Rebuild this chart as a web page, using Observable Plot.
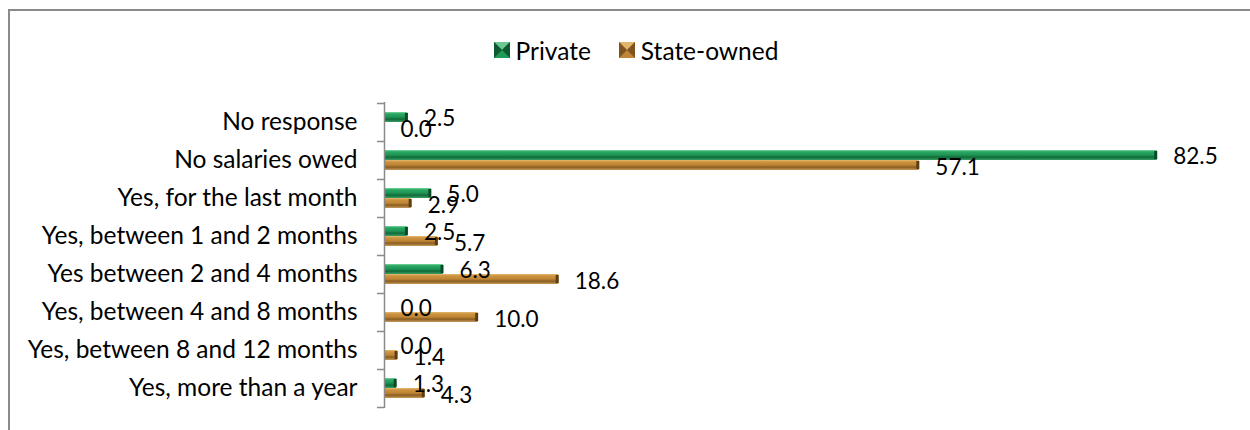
<!DOCTYPE html>
<html><head><meta charset="utf-8">
<script src="https://cdn.jsdelivr.net/npm/d3@7"></script>
<script src="https://cdn.jsdelivr.net/npm/@observablehq/plot@0.6"></script>
<style>
html,body{margin:0;padding:0;overflow:hidden;background:#fff;width:1250px;height:430px;}
#frame{position:absolute;left:8px;top:9px;width:1300px;height:500px;border:2px solid #8a8a8a;box-sizing:border-box;}
#chart{position:absolute;left:0;top:0;width:1250px;font-family:Lato,sans-serif;color:#000;}
#legend{height:70px;display:flex;justify-content:center;align-items:center;padding-top:30px;box-sizing:border-box;font-size:24.5px;padding-left:22px;}
.item{display:flex;align-items:center;}
.item svg{margin-right:6px;}
.item + .item{margin-left:28px;}
</style></head>
<body>
<div id="frame"></div>
<div id="chart"><div id="legend"></div></div>
<script>
const categories = ["No response","No salaries owed","Yes, for the last month","Yes, between 1 and 2 months","Yes between 2 and 4 months","Yes, between 4 and 8 months","Yes, between 8 and 12 months","Yes, more than a year"];
const privateValues = [2.5, 82.5, 5.0, 2.5, 6.3, 0.0, 0.0, 1.3];
const stateValues = [0.0, 57.1, 2.9, 5.7, 18.6, 10.0, 1.4, 4.3];
const seriesNames = ["Private", "State-owned"];
const xDomain = [0, 90];

const palette = {
  "Private": {id: "gradPrivate", stops: [["0", "#7ed3a2"], ["0.18", "#27a862"], ["0.5", "#1f9455"], ["0.72", "#0f6a38"], ["1", "#3a9e66"]], cap: "#0a4a27", base: "#1f9a57", dark: "#0d5a31", light: "#6cc792"},
  "State-owned": {id: "gradState", stops: [["0", "#e6bb72"], ["0.18", "#cc9340"], ["0.5", "#bf8534"], ["0.72", "#8a5d22"], ["1", "#c69a5a"]], cap: "#5c3c12", base: "#c08535", dark: "#7d5420", light: "#e3b56b"}
};

const rows = categories.flatMap((c, i) => [
  {category: c, series: seriesNames[0], value: privateValues[i]},
  {category: c, series: seriesNames[1], value: stateValues[i]}
]);
const priv = rows.filter(d => d.series === seriesNames[0]);
const st = rows.filter(d => d.series === seriesNames[1]);

// legend
const legend = d3.select("#legend");
for (const s of seriesNames) {
  const p = palette[s];
  const it = legend.append("div").attr("class", "item");
  const sw = it.append("svg").attr("width", 16).attr("height", 16);
  sw.append("rect").attr("width", 16).attr("height", 16).attr("fill", p.base);
  sw.append("polygon").attr("points", "0,0 16,0 8,8").attr("fill", p.light);
  sw.append("polygon").attr("points", "0,16 16,16 8,8").attr("fill", p.base);
  sw.append("polygon").attr("points", "0,0 0,16 8,8").attr("fill", p.dark);
  sw.append("polygon").attr("points", "16,0 16,16 8,8").attr("fill", p.dark);
  it.append("span").text(s);
}

const fsLabel = 24.5;
const fsValue = 22.5;
const plot = Plot.plot({
  width: 1250,
  height: 360,
  marginTop: 32,
  marginBottom: 22,
  marginLeft: 384,
  marginRight: 23,
  x: {domain: xDomain, axis: null},
  y: {domain: categories, padding: 0, axis: null},
  style: {fontFamily: "Lato, sans-serif", fontSize: fsLabel + "px", color: "#000", background: "transparent", overflow: "visible"},
  marks: [
    Plot.axisY({tickSize: 0, tickPadding: 27, fontSize: fsLabel, fill: "#000", label: null}),
    Plot.barX(priv, {x: "value", y: "category", fill: "url(#gradPrivate)", insetTop: 9, insetBottom: 19}),
    Plot.barX(st, {x: "value", y: "category", fill: "url(#gradState)", insetTop: 19, insetBottom: 9}),
    Plot.tickX(priv.filter(d => d.value > 0), {x: "value", y: "category", stroke: palette["Private"].cap, strokeWidth: 3, dx: -1.5, insetTop: 10, insetBottom: 20}),
    Plot.tickX(st.filter(d => d.value > 0), {x: "value", y: "category", stroke: palette["State-owned"].cap, strokeWidth: 3, dx: -1.5, insetTop: 20, insetBottom: 10}),
    Plot.ruleX([0], {stroke: "#8a8a8a", strokeWidth: 1.5}),
    Plot.ruleY(categories, {y: d => d, x1: 0, x2: 0, dy: -19, insetLeft: -7, stroke: "#8a8a8a", strokeWidth: 1.5}),
    Plot.ruleY(categories.slice(-1), {y: d => d, x1: 0, x2: 0, dy: 19, insetLeft: -7, stroke: "#8a8a8a", strokeWidth: 1.5}),
    Plot.text(priv, {x: "value", y: "category", text: d => d.value.toFixed(1), dx: 16, dy: -4, textAnchor: "start", fontSize: fsValue, fill: "#000"}),
    Plot.text(st, {x: "value", y: "category", text: d => d.value.toFixed(1), dx: 16, dy: 7, textAnchor: "start", fontSize: fsValue, fill: "#000"})
  ]
});

// gradient definitions
const defs = d3.select(plot).insert("defs", ":first-child");
for (const s of seriesNames) {
  const p = palette[s];
  const g = defs.append("linearGradient").attr("id", p.id).attr("x1", 0).attr("y1", 0).attr("x2", 0).attr("y2", 1);
  for (const [o, c] of p.stops) g.append("stop").attr("offset", o).attr("stop-color", c);
}
document.getElementById("chart").appendChild(plot);
</script>
</body></html>
